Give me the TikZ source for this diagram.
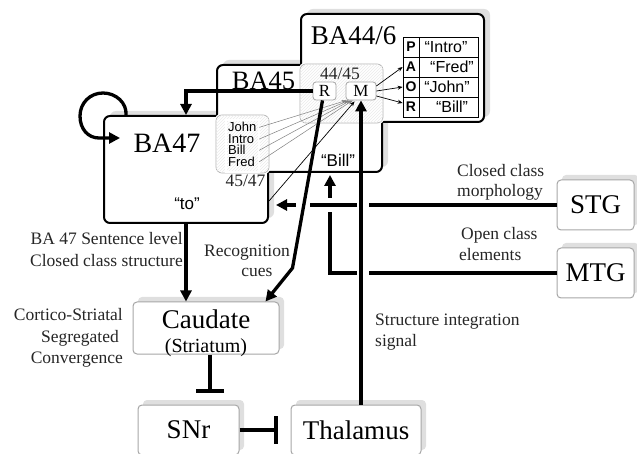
\documentclass[tikz,border=0pt]{standalone}
\usepackage{fontspec}
\setmainfont{Liberation Serif}
\newfontfamily\sansf{Liberation Sans}
\usetikzlibrary{arrows.meta,patterns,calc,shadows}
\begin{document}
\begin{tikzpicture}[x=1pt,y=-1pt,
  bigbox/.style={draw=black, line width=2pt, rounded corners=6pt, fill=white, inner sep=0pt,
    drop shadow={shadow xshift=6pt, shadow yshift=5pt, fill=gray!25, opacity=1}},
  smallbox/.style={draw=gray!70, line width=1pt, rounded corners=4pt, fill=white, inner sep=0pt,
    font=\fontsize{27}{30}\selectfont,
    drop shadow={shadow xshift=5pt, shadow yshift=5pt, fill=gray!25, opacity=1}},
  overlap/.style={draw=gray!60, line width=0.7pt, rounded corners=6pt, fill=white,
    postaction={pattern=north east lines, pattern color=gray!16}},
  rmbox/.style={draw=gray!70, line width=0.8pt, rounded corners=3pt, fill=white, inner sep=0pt,
    font=\fontsize{17}{17}\selectfont, minimum height=18pt},
  big/.style={font=\fontsize{27}{30}\selectfont, inner sep=0pt, anchor=base},
  lbl/.style={font=\fontsize{17.5}{21}\selectfont, inner sep=0pt, anchor=base, text=black!85},
  sans/.style={font=\sansf\fontsize{17}{20}\selectfont, inner sep=0pt, anchor=base},
  word/.style={font=\sansf\fontsize{13}{13}\selectfont, inner sep=0pt, anchor=base west},
  cellL/.style={draw=black, line width=0.8pt, minimum width=16pt, minimum height=20pt, inner sep=0pt,
    font=\sansf\bfseries\fontsize{14}{14}\selectfont},
  cellT/.style={draw=black, line width=0.8pt, minimum width=59pt, minimum height=20pt, inner sep=0pt},
  conn/.style={line width=3.3pt, -{Triangle[length=11pt,width=11pt]}},
  inhib/.style={line width=3.3pt, -{Bar[width=28pt]}},
  thinarr/.style={line width=0.5pt, draw=gray, -{Stealth[length=5pt,width=3.5pt]}},
  thinblk/.style={line width=0.7pt, draw=black, -{Stealth[length=5pt,width=4pt]}},
]
\useasboundingbox (0,0) rectangle (637,454);
\clip (0,0) rectangle (637,454);

% Brodmann area boxes
\node[bigbox, minimum width=164pt, minimum height=107pt] (ba47) at (186,169.5) {};
\node[bigbox, minimum width=165pt, minimum height=107pt] (ba45) at (299.5,118.5) {};
\node[bigbox, minimum width=183pt, minimum height=108pt] (ba446) at (392.5,68) {};

% overlap regions
\draw[white, line width=3pt, rounded corners=6pt] (ba446.west |- ba45.north) rectangle (ba45.east |- ba446.south);
\draw[overlap] (ba446.west |- ba45.north) rectangle (ba45.east |- ba446.south);
\draw[white, line width=3pt, rounded corners=6pt] (ba45.west |- ba47.north) rectangle (ba47.east |- ba45.south);
\draw[overlap] (ba45.west |- ba47.north) rectangle (ba47.east |- ba45.south);

% labels in areas
\node[big, font=\fontsize{28}{30}\selectfont] (t47) at (167,153) {BA47};
\node[big, font=\fontsize{26.5}{30}\selectfont] (t45) at (263.5,90) {BA45};
\node[big] (t446) at (353.5,45) {BA44/6};
\node[lbl] (t4445) at (340,80) {44/45};
\node[lbl] (t4547) at (245.5,187) {45/47};
\node[sans] (tto) at (187,210) {“to”};
\node[sans] (tbill) at (338,167) {“Bill”};

% R and M
\node[rmbox, minimum width=23pt] (r) at (324.5,91) {R};
\node[rmbox, minimum width=30pt] (m) at (361,91) {M};

% word list
\node[draw=gray!70, line width=0.5pt, double=white, double distance=1.2pt, minimum width=33pt, minimum height=52pt, inner sep=0pt] (wl) at (242.5,146) {};
\node[word] (wJohn) at (228,132) {John};
\node[word] (wIntro) at (228,143.5) {Intro};
\node[word] (wBill) at (228,155) {Bill};
\node[word] (wFred) at (228,166.5) {Fred};

% table
\node[cellL] (cP) at (411,47) {P};
\node[cellL] (cA) at (411,67) {A};
\node[cellL] (cO) at (411,87) {O};
\node[cellL] (cR) at (411,107) {R};
\node[cellT] (xP) at (448.5,47) {};
\node[cellT] (xA) at (448.5,67) {};
\node[cellT] (xO) at (448.5,87) {};
\node[cellT] (xR) at (448.5,107) {};
\node[sans, font=\sansf\fontsize{16}{18}\selectfont] (sP) at (446,53) {“Intro”};
\node[sans, font=\sansf\fontsize{16}{18}\selectfont] (sA) at (452,73) {“Fred”};
\node[sans, font=\sansf\fontsize{16}{18}\selectfont] (sO) at (447,93) {“John”};
\node[sans, font=\sansf\fontsize{16}{18}\selectfont] (sR) at (452,113) {“Bill”};

% other boxes
\node[smallbox, minimum width=77pt, minimum height=50pt] (stg) at (595.5,205) {STG};
\node[smallbox, minimum width=77pt, minimum height=50pt] (mtg) at (595.5,273) {MTG};
\node[smallbox, minimum width=146pt, minimum height=52pt] (caudate) at (206,328) {};
\node[big] (tcaud) at (206,328) {Caudate};
\node[big, font=\fontsize{20}{22}\selectfont] (tstri) at (206,352) {(Striatum)};
\node[smallbox, minimum width=101pt, minimum height=50pt] (snr) at (188.5,430) {SNr};
\node[smallbox, minimum width=130pt, minimum height=50pt] (thal) at (356,430) {Thalamus};

% free labels
\node[lbl, anchor=base west] (lcc1) at (457,177) {Closed class};
\node[lbl, anchor=base west] (lcc2) at (457,197) {morphology};
\node[lbl, anchor=base west] (loc1) at (461,240) {Open class};
\node[lbl, anchor=base west] (loc2) at (459,261) {elements};
\node[lbl, anchor=base east] (lbs1) at (183,245) {BA 47 Sentence level};
\node[lbl, anchor=base east] (lbs2) at (183,267) {Closed class structure};
\node[lbl] (lrc1) at (247,257) {Recognition};
\node[lbl] (lrc2) at (257,277) {cues};
\node[lbl, anchor=base east] (lcs1) at (123,320) {Cortico-Striatal};
\node[lbl, anchor=base east] (lcs2) at (119,342) {Segregated};
\node[lbl, anchor=base east] (lcs3) at (123,363) {Convergence};
\node[lbl, anchor=base west] (lsi1) at (375,325) {Structure integration};
\node[lbl, anchor=base west] (lsi2) at (375,346) {signal};

% thin connectors
\draw[thinarr] (wJohn.east -| wl.east) -- ($(m.south west)+(1,0)$);
\draw[thinarr] (wIntro.east -| wl.east) -- ($(m.south west)+(3,0)$);
\draw[thinarr] (wBill.east -| wl.east) -- ($(m.south west)+(5,0)$);
\draw[thinarr] (wFred.east -| wl.east) -- ($(m.south west)+(7,0)$);
\draw[thinblk] ($(ba47.east)+(0,31.5)$) -- ($(m.south west)+(9,1)$);
\draw[thinblk] ($(m.east)+(0,-5)$) -- (cA.west);
\draw[thinblk] (m.east) -- (cO.west);
\draw[thinblk] ($(m.east)+(0,5)$) -- ($(cR.west)+(0,-4)$);

% self loop on BA47
\draw[conn] ($(ba47.north west)+(23,0)$) .. controls (127,103) and (116,93) .. (103,93)
  .. controls (90,93) and (80,103) .. (80,116)
  .. controls (80,129) and (88,138) .. (99,138) -- (120,138);

% thick connectors
\coordinate (billin) at (330,175);
\coordinate (toin) at ($(ba47.east |- stg.west)+(7,0)$);
\coordinate (bend) at (292.5,268);
\coordinate (caudin) at ($(caudate.north east)+(-14,0)$);

\draw[conn] (r.west) -| (ba47.north);
\draw[conn] (ba47.south) -- (ba47.south |- caudate.north);
\draw[inhib] ($(caudate.south)+(4,0)$) -- ($(caudate.south |- snr.north)+(4,-12)$);
\draw[inhib] (snr.east) -- ($(thal.west)+(-13,0)$);
\draw[conn] (mtg.west) -| (billin);
\fill[white] (326,198) rectangle (334,212);
\draw[conn] (stg.west) -- (toin);
\fill[white] (357,198) rectangle (369,212);
\fill[white] (357,266) rectangle (369,280);
\fill[white] (296,198) rectangle (310,212);
\draw[conn] (thal.north -| m.south) -- (m.south);
\draw[conn, line join=miter] ($(r.south)+(-2,0)$) -- (bend) -- (caudin);
\end{tikzpicture}
\end{document}
